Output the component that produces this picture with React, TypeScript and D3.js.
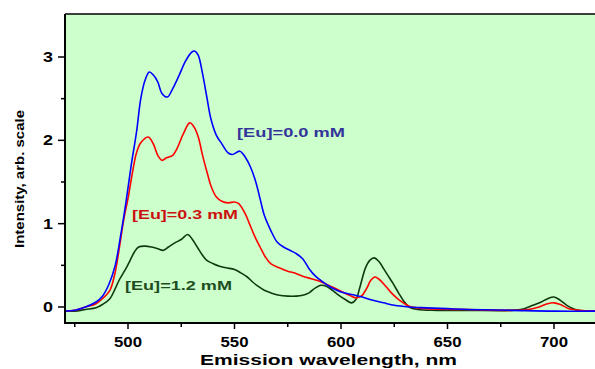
import { useRef, useEffect } from 'react'
import * as d3 from 'd3'

const W = 595
const H = 369
const PLOT = { left: 65, right: 595, top: 14, bottom: 323 }

// [wavelength nm, intensity]
const EU_00: [number, number][] = [
  [470, -0.05], [475, -0.04], [480, 0.0], [485, 0.06], [488, 0.13], [491, 0.27], [494, 0.5],
  [496.5, 0.85], [499, 1.25], [501.5, 1.7], [504, 2.1], [506, 2.5], [508, 2.72], [510, 2.82],
  [512, 2.78], [514, 2.7], [516, 2.56], [518.5, 2.52], [521, 2.62], [524, 2.78], [527, 2.95],
  [530, 3.06], [531.5, 3.07], [533, 3.02], [535, 2.8], [537, 2.52], [539, 2.25], [541.5, 2.06],
  [544, 1.96], [547, 1.85], [549, 1.83], [552.5, 1.87], [555, 1.8], [557.5, 1.68], [560, 1.5],
  [562, 1.3], [564, 1.1], [567, 0.92], [570, 0.78], [573, 0.72], [576, 0.68], [579, 0.64],
  [582, 0.58], [585, 0.46], [588, 0.37], [591.5, 0.3], [595, 0.24], [600, 0.18], [605, 0.15],
  [610, 0.12], [615, 0.08], [620, 0.05], [625, 0.02], [632, 0.0], [640, -0.01], [650, -0.02],
  [660, -0.03], [680, -0.04], [700, -0.05], [720, -0.05],
]

const EU_03: [number, number][] = [
  [470, -0.05], [475, -0.04], [480, 0.0], [485, 0.04], [488, 0.1], [491.5, 0.2], [494, 0.42],
  [496, 0.72], [498, 1.05], [500, 1.3], [502, 1.6], [504, 1.85], [506, 1.97], [509.5, 2.04],
  [512, 1.95], [514, 1.82], [516, 1.76], [518, 1.79], [521, 1.82], [523, 1.9], [526, 2.08],
  [529, 2.21], [531, 2.16], [533, 2.04], [535, 1.82], [537.5, 1.58], [539, 1.45], [541.5, 1.32],
  [544, 1.27], [547, 1.25], [550, 1.26], [552, 1.24], [555, 1.12], [557, 1.0], [560, 0.82],
  [562, 0.72], [564.5, 0.6], [567, 0.52], [571, 0.47], [575, 0.43], [578, 0.41], [582, 0.37],
  [586, 0.34], [590, 0.31], [595, 0.25], [600, 0.19], [604, 0.14], [607, 0.11], [609.5, 0.13],
  [612, 0.22], [614, 0.32], [616, 0.36], [618, 0.33], [621, 0.25], [624, 0.16], [627.5, 0.08],
  [632, 0.01], [640, -0.02], [660, -0.03], [680, -0.04], [688, -0.03], [693, 0.0], [697, 0.04],
  [700, 0.05], [703, 0.03], [707, -0.02], [712, -0.04], [720, -0.05],
]

const EU_12: [number, number][] = [
  [470, -0.05], [475, -0.05], [480, -0.03], [485, -0.01], [488, 0.03], [491.5, 0.1], [494, 0.22],
  [496, 0.33], [499, 0.46], [501, 0.56], [503, 0.66], [505, 0.72], [508, 0.73], [511, 0.72],
  [514, 0.7], [516.5, 0.68], [519, 0.72], [522, 0.77], [525, 0.81], [528, 0.87], [530, 0.82],
  [532.5, 0.72], [535, 0.62], [537, 0.56], [540, 0.52], [543, 0.49], [546, 0.47], [550, 0.45],
  [553, 0.41], [556, 0.36], [558.5, 0.3], [561, 0.25], [564, 0.2], [567, 0.17], [571, 0.14],
  [575, 0.13], [579, 0.13], [582, 0.14], [585, 0.17], [588, 0.23], [590.5, 0.26], [593, 0.25],
  [596, 0.2], [599, 0.14], [602, 0.09], [605, 0.05], [607, 0.09], [609, 0.25], [611.5, 0.47],
  [613.5, 0.56], [615.5, 0.59], [618, 0.54], [620, 0.46], [622, 0.38], [624.5, 0.28], [627, 0.17],
  [629.5, 0.07], [632, 0.0], [636, -0.03], [645, -0.04], [660, -0.04], [680, -0.04], [686, -0.02],
  [690, 0.02], [694, 0.06], [697, 0.1], [700, 0.12], [703, 0.08], [706, 0.02], [710, -0.03],
  [715, -0.05], [720, -0.05],
]

const X_TICKS = [500, 550, 600, 650, 700]
const X_MINOR = [475, 525, 575, 625, 675]
const Y_TICKS = [0, 1, 2, 3]
const Y_MINOR = [0.5, 1.5, 2.5]

const SERIES = [
  { key: 'eu00', data: EU_00, color: '#0000ff', label: '[Eu]=0.0 mM', labelColor: '#34349a', lx: 237, ly: 137, lw: 108 },
  { key: 'eu03', data: EU_03, color: '#ff0000', label: '[Eu]=0.3 mM', labelColor: '#cc1111', lx: 132, ly: 219, lw: 106 },
  { key: 'eu12', data: EU_12, color: '#0f3a0f', label: '[Eu]=1.2 mM', labelColor: '#1e4d1e', lx: 125, ly: 290, lw: 107 },
]

export default function App() {
  const svgRef = useRef<SVGSVGElement>(null)

  useEffect(() => {
    if (!svgRef.current) return
    const svg = d3.select(svgRef.current)
    svg.selectAll('*').remove()
    const font = '"Liberation Sans", Arial, sans-serif'

    const x = d3.scaleLinear().domain([500, 700]).range([128, 554])
    const y = d3.scaleLinear().domain([0, 3]).range([307, 57])

    svg.append('defs').append('clipPath').attr('id', 'plotclip')
      .append('rect')
      .attr('x', PLOT.left).attr('y', PLOT.top)
      .attr('width', PLOT.right - PLOT.left).attr('height', PLOT.bottom - PLOT.top)

    // background
    svg.append('rect')
      .attr('x', PLOT.left).attr('y', PLOT.top)
      .attr('width', PLOT.right - PLOT.left).attr('height', PLOT.bottom - PLOT.top)
      .attr('fill', '#ccffcc')

    // curves
    const line = d3.line<[number, number]>()
      .x(d => x(d[0])).y(d => y(d[1]))
      .curve(d3.curveCatmullRom.alpha(0.5))
    const gc = svg.append('g').attr('clip-path', 'url(#plotclip)')
    ;[...SERIES].reverse().forEach(s => {
      gc.append('path').datum(s.data).attr('d', line)
        .attr('fill', 'none').attr('stroke', s.color).attr('stroke-width', 1.6)
        .attr('stroke-linejoin', 'round')
    })

    // frame
    svg.append('line')
      .attr('x1', PLOT.left).attr('x2', PLOT.right).attr('y1', PLOT.top).attr('y2', PLOT.top)
      .attr('stroke', '#000').attr('stroke-width', 1.5)
    svg.append('line')
      .attr('x1', PLOT.left).attr('x2', PLOT.left).attr('y1', PLOT.top).attr('y2', PLOT.bottom + 1)
      .attr('stroke', '#000').attr('stroke-width', 2)
    svg.append('line')
      .attr('x1', PLOT.left - 1).attr('x2', PLOT.right).attr('y1', PLOT.bottom).attr('y2', PLOT.bottom)
      .attr('stroke', '#000').attr('stroke-width', 2)

    // x ticks
    X_TICKS.forEach(t => {
      svg.append('line')
        .attr('x1', x(t)).attr('x2', x(t)).attr('y1', PLOT.bottom).attr('y2', PLOT.bottom + 6)
        .attr('stroke', '#000').attr('stroke-width', 1.5)
      svg.append('text')
        .attr('x', x(t)).attr('y', 347)
        .attr('text-anchor', 'middle')
        .attr('font-family', font).attr('font-weight', 700).attr('font-size', 14)
        .attr('textLength', 28).attr('lengthAdjust', 'spacingAndGlyphs')
        .text(String(t))
    })
    X_MINOR.forEach(t => {
      svg.append('line')
        .attr('x1', x(t)).attr('x2', x(t)).attr('y1', PLOT.bottom).attr('y2', PLOT.bottom + 4)
        .attr('stroke', '#000').attr('stroke-width', 1.5)
    })

    // y ticks
    Y_TICKS.forEach(t => {
      svg.append('line')
        .attr('x1', PLOT.left - 7).attr('x2', PLOT.left).attr('y1', y(t)).attr('y2', y(t))
        .attr('stroke', '#000').attr('stroke-width', 1.5)
      svg.append('text')
        .attr('x', 53).attr('y', y(t) + 5)
        .attr('text-anchor', 'end')
        .attr('font-family', font).attr('font-weight', 700).attr('font-size', 14)
        .attr('textLength', 10).attr('lengthAdjust', 'spacingAndGlyphs')
        .text(String(t))
    })
    Y_MINOR.forEach(t => {
      svg.append('line')
        .attr('x1', PLOT.left - 4).attr('x2', PLOT.left).attr('y1', y(t)).attr('y2', y(t))
        .attr('stroke', '#000').attr('stroke-width', 1.5)
    })

    // axis titles
    svg.append('text')
      .attr('x', 200).attr('y', 365)
      .attr('font-family', font).attr('font-weight', 700).attr('font-size', 15)
      .attr('textLength', 257).attr('lengthAdjust', 'spacingAndGlyphs')
      .text('Emission wavelength, nm')
    svg.append('text')
      .attr('transform', 'translate(24,248) rotate(-90)')
      .attr('font-family', font).attr('font-weight', 700).attr('font-size', 12)
      .attr('textLength', 138).attr('lengthAdjust', 'spacingAndGlyphs')
      .text('Intensity, arb. scale')

    // series labels
    SERIES.forEach(s => {
      svg.append('text')
        .attr('x', s.lx).attr('y', s.ly)
        .attr('font-family', font).attr('font-weight', 700).attr('font-size', 13)
        .attr('textLength', s.lw).attr('lengthAdjust', 'spacingAndGlyphs')
        .attr('fill', s.labelColor)
        .text(s.label)
    })
  }, [])

  return (
    <svg
      ref={svgRef}
      width={W}
      height={H}
      style={{ position: 'absolute', left: 0, top: 0, background: '#fff' }}
    />
  )
}
